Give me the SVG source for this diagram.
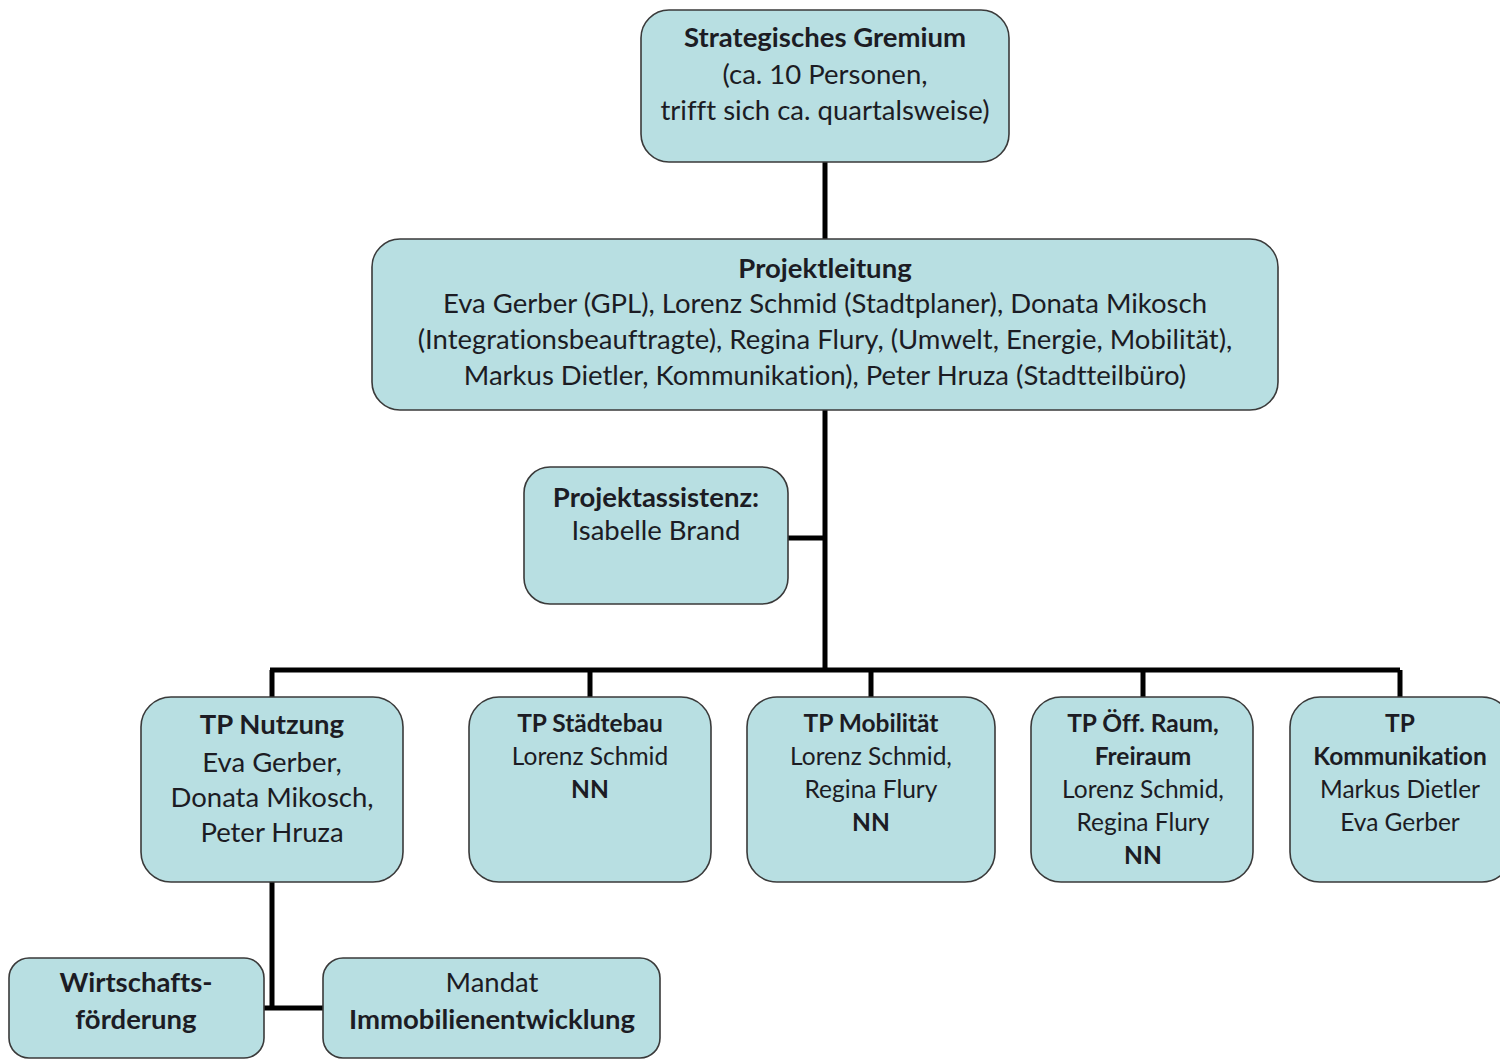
<svg xmlns="http://www.w3.org/2000/svg" width="1500" height="1061" viewBox="0 0 1500 1061">
<style>
.box{fill:#b8dfe2;stroke:#3a3a3a;stroke-width:1.6}
text{font-family:Lato,"Open Sans","Liberation Sans",sans-serif;fill:#1c1c24;text-anchor:middle;font-variant-ligatures:none}
.t{font-size:27.5px}
.s{font-size:24.5px}
.b{font-weight:bold}
.con{stroke:#000;stroke-width:5;fill:none}
</style>
<rect width="1500" height="1061" fill="#fff"/>
<g id="connectors">
<path class="con" d="M825 162V240"/>
<path class="con" d="M825 410V670"/>
<path class="con" d="M788 538H825"/>
<path class="con" d="M270 670H1400"/>
<path class="con" d="M272 670V697M590 670V697M871 670V697M1143 670V697M1400 670V697"/>
<path class="con" d="M272 882V1008M264 1008H323"/>
</g>
<g id="strategisches-gremium">
<rect class="box" x="641" y="10" width="368" height="152" rx="28"/>
<text class="t b" x="825" y="47">Strategisches Gremium</text>
<text class="t" x="825" y="84">(ca. 10 Personen,</text>
<text class="t" x="825" y="120">trifft sich ca. quartalsweise)</text>
</g>
<g id="projektleitung">
<rect class="box" x="372" y="239" width="906" height="171" rx="28"/>
<text class="t b" x="825" y="278">Projektleitung</text>
<text class="t" x="825" y="313">Eva Gerber (GPL), Lorenz Schmid (Stadtplaner), Donata Mikosch</text>
<text class="t" x="825" y="349">(Integrationsbeauftragte), Regina Flury, (Umwelt, Energie, Mobilität),</text>
<text class="t" x="825" y="385">Markus Dietler, Kommunikation), Peter Hruza (Stadtteilbüro)</text>
</g>
<g id="projektassistenz">
<rect class="box" x="524" y="467" width="264" height="137" rx="26"/>
<text class="t b" x="656" y="507">Projektassistenz:</text>
<text class="t" x="656" y="540">Isabelle Brand</text>
</g>
<g id="tp-nutzung">
<rect class="box" x="141" y="697" width="262" height="185" rx="30"/>
<text class="t b" x="272" y="734">TP Nutzung</text>
<text class="t" x="272" y="772">Eva Gerber,</text>
<text class="t" x="272" y="807">Donata Mikosch,</text>
<text class="t" x="272" y="842">Peter Hruza</text>
</g>
<g id="tp-staedtebau">
<rect class="box" x="469" y="697" width="242" height="185" rx="30"/>
<text class="s b" x="590" y="732">TP Städtebau</text>
<text class="s" x="590" y="765">Lorenz Schmid</text>
<text class="s b" x="590" y="798">NN</text>
</g>
<g id="tp-mobilitaet">
<rect class="box" x="747" y="697" width="248" height="185" rx="30"/>
<text class="s b" x="871" y="732">TP Mobilität</text>
<text class="s" x="871" y="765">Lorenz Schmid,</text>
<text class="s" x="871" y="798">Regina Flury</text>
<text class="s b" x="871" y="831">NN</text>
</g>
<g id="tp-oeff-raum">
<rect class="box" x="1031" y="697" width="222" height="185" rx="30"/>
<text class="s b" x="1143" y="732">TP Öff. Raum,</text>
<text class="s b" x="1143" y="765">Freiraum</text>
<text class="s" x="1143" y="798">Lorenz Schmid,</text>
<text class="s" x="1143" y="831">Regina Flury</text>
<text class="s b" x="1143" y="864">NN</text>
</g>
<g id="tp-kommunikation">
<rect class="box" x="1290" y="697" width="222" height="185" rx="30"/>
<text class="s b" x="1400" y="732">TP</text>
<text class="s b" x="1400" y="765">Kommunikation</text>
<text class="s" x="1400" y="798">Markus Dietler</text>
<text class="s" x="1400" y="831">Eva Gerber</text>
</g>
<g id="wirtschaftsfoerderung">
<rect class="box" x="9" y="958" width="255" height="100" rx="20"/>
<text class="t b" x="136" y="992">Wirtschafts-</text>
<text class="t b" x="136" y="1029">förderung</text>
</g>
<g id="mandat">
<rect class="box" x="323" y="958" width="337" height="100" rx="20"/>
<text class="t" x="492" y="992">Mandat</text>
<text class="t b" x="492" y="1029">Immobilienentwicklung</text>
</g>
</svg>
